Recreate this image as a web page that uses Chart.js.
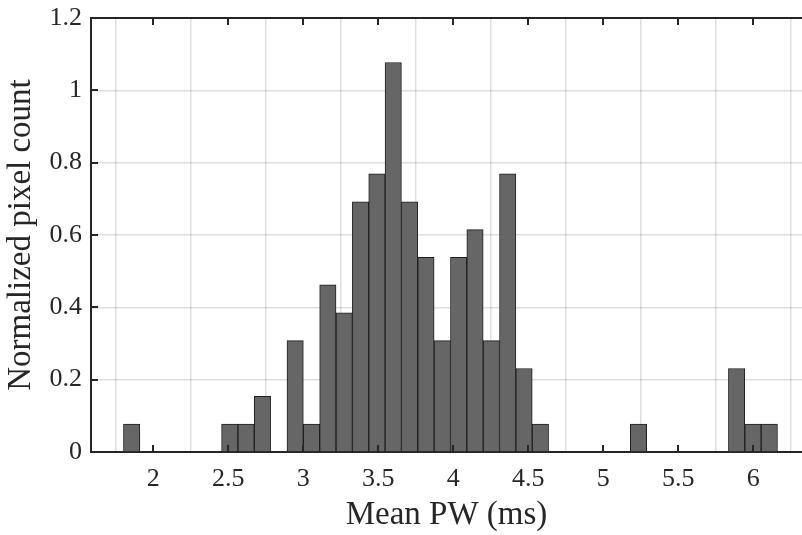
<!DOCTYPE html>
<html>
<head>
<meta charset="utf-8">
<script src="https://cdn.jsdelivr.net/npm/chart.js@4.4.1/dist/chart.umd.min.js"></script>
<style>
html,body{margin:0;padding:0;background:#ffffff;}
#wrap{width:802px;height:535px;position:relative;}
</style>
</head>
<body>
<div id="wrap"><canvas id="c" width="802" height="535"></canvas></div>
<script>
// Histogram bin centres (ms) and normalized pixel counts
const binCenters = [1.856, 1.965, 2.074, 2.183, 2.292, 2.401, 2.510, 2.619, 2.728, 2.837,
                    2.946, 3.055, 3.164, 3.273, 3.382, 3.491, 3.600, 3.709, 3.818, 3.927,
                    4.036, 4.145, 4.254, 4.363, 4.472, 4.581, 4.690, 4.799, 4.908, 5.017,
                    5.126, 5.235, 5.344, 5.453, 5.562, 5.671, 5.780, 5.889, 5.998, 6.107];
const normCounts = [0.077, 0, 0, 0, 0, 0, 0.077, 0.077, 0.154, 0,
                    0.308, 0.077, 0.462, 0.385, 0.692, 0.769, 1.077, 0.692, 0.538, 0.308,
                    0.538, 0.615, 0.308, 0.769, 0.231, 0.077, 0, 0, 0, 0,
                    0, 0.077, 0, 0, 0, 0, 0, 0.231, 0.077, 0.077];
const xTicks = [2, 2.5, 3, 3.5, 4, 4.5, 5, 5.5, 6];
const xTickLabels = ['2', '2.5', '3', '3.5', '4', '4.5', '5', '5.5', '6'];
const yTicks = [0, 0.2, 0.4, 0.6, 0.8, 1, 1.2];
const yTickLabels = ['0', '0.2', '0.4', '0.6', '0.8', '1', '1.2'];
const xTitle = 'Mean PW (ms)';
const yTitle = 'Normalized pixel count';
const xRange = [1.585, 6.325];
const yRange = [0, 1.2];

const FONT = "'Liberation Serif', 'Times New Roman', serif";
const AXIS = '#262626';

const innerTicks = {
  id: 'innerTicks',
  afterDraw(chart) {
    const {ctx, chartArea: a, scales: {x, y}} = chart;
    ctx.save();
    ctx.strokeStyle = AXIS;
    ctx.lineWidth = 2;
    ctx.beginPath();
    ctx.moveTo(a.left - 1, a.top);
    ctx.lineTo(a.right, a.top);
    x.ticks.forEach(t => {
      const px = Math.round(x.getPixelForValue(t.value));
      ctx.moveTo(px, a.bottom);
      ctx.lineTo(px, a.bottom - 7);
      ctx.moveTo(px, a.top);
      ctx.lineTo(px, a.top + 7);
    });
    y.ticks.forEach(t => {
      const py = Math.round(y.getPixelForValue(t.value));
      ctx.moveTo(a.left, py);
      ctx.lineTo(a.left + 7, py);
    });
    ctx.stroke();
    ctx.restore();
  }
};

new Chart(document.getElementById('c'), {
  type: 'bar',
  data: {
    datasets: [{
      data: binCenters.map((c, i) => ({x: c, y: normCounts[i]})),
      backgroundColor: '#666666',
      borderColor: '#1f1f1f',
      borderWidth: 1,
      barPercentage: 1,
      categoryPercentage: 1
    }]
  },
  options: {
    responsive: false,
    animation: false,
    layout: {padding: {top: 18, right: 0, left: 0, bottom: 0}},
    plugins: {legend: {display: false}, tooltip: {enabled: false}},
    scales: {
      x: {
        type: 'linear',
        min: xRange[0], max: xRange[1],
        offset: false,
        z: 1,
        afterBuildTicks: s => { s.ticks = xTicks.map(v => ({value: v})); },
        afterFit: s => { s.height = 83; s.paddingLeft = 0; s.paddingRight = 0; },
        ticks: {
          callback: (v, i) => xTickLabels[i],
          font: {family: FONT, size: 26},
          color: AXIS,
          padding: 12,
          maxRotation: 0,
          autoSkip: false
        },
        grid: {color: 'rgba(0,0,0,0.13)', lineWidth: 1.5, drawTicks: false},
        border: {display: true, color: AXIS, width: 2},
        title: {display: true, text: xTitle, font: {family: FONT, size: 33}, color: AXIS, padding: {top: 0, bottom: 0}}
      },
      y: {
        type: 'linear',
        min: yRange[0], max: yRange[1],
        z: 1,
        afterBuildTicks: s => { s.ticks = yTicks.map(v => ({value: v})); },
        afterFit: s => { s.width = 91; s.paddingTop = 0; s.paddingBottom = 0; },
        ticks: {
          callback: (v, i) => yTickLabels[i],
          font: {family: FONT, size: 26},
          color: AXIS,
          padding: 9
        },
        grid: {color: 'rgba(0,0,0,0.13)', lineWidth: 1.5, drawTicks: false},
        border: {display: true, color: AXIS, width: 2},
        title: {display: true, text: yTitle, font: {family: FONT, size: 33}, color: AXIS, padding: {top: 2, bottom: 0}}
      }
    }
  },
  plugins: [innerTicks]
});
</script>
</body>
</html>
